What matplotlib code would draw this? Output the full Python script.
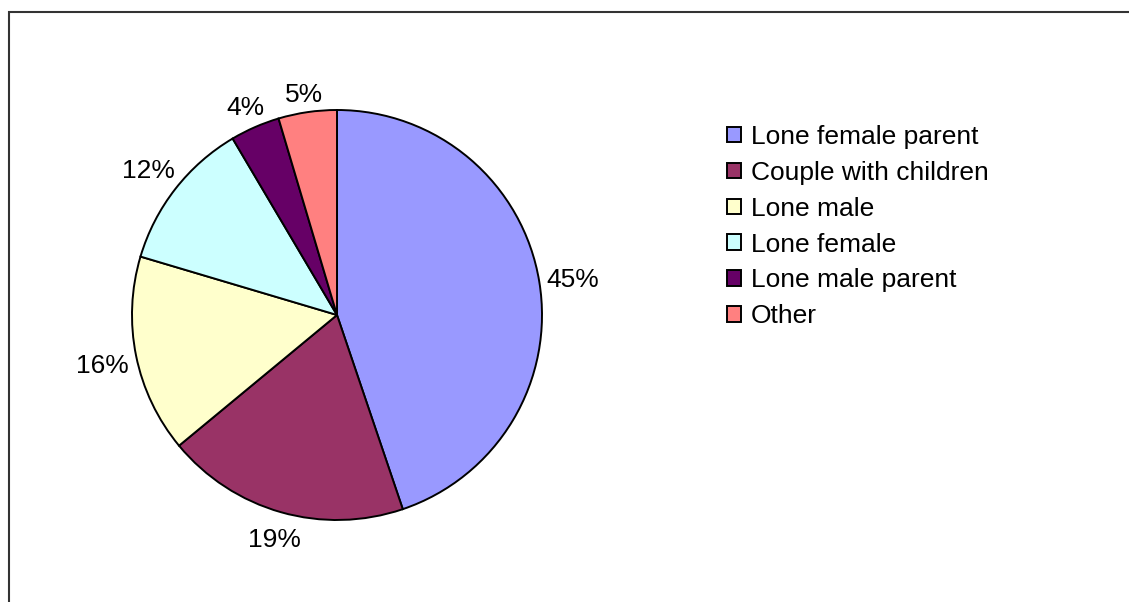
import numpy as np
import matplotlib
matplotlib.use("Agg")
import matplotlib.pyplot as plt
from matplotlib.patches import Rectangle

categories = ["Lone female parent", "Couple with children", "Lone male",
              "Lone female", "Lone male parent", "Other"]
values = [44.8, 19.2, 15.6, 11.9, 3.9, 4.6]
pct_labels = ["45%", "19%", "16%", "12%", "4%", "5%"]
colors = ["#9999FF", "#993366", "#FFFFCC", "#CCFFFF", "#660066", "#FF8080"]

plt.rcParams['font.family'] = ['Liberation Sans', 'DejaVu Sans']

W, H = 1129, 602
fig = plt.figure(figsize=(W / 100, H / 100), dpi=100)

# outer frame
fig.patches.append(Rectangle((9 / W, -0.1), 1.2, (H - 12) / H + 0.1,
                             transform=fig.transFigure, fill=False,
                             edgecolor="#333333", linewidth=1.5))

cx, cy, r = 337, 315, 205
ax = fig.add_axes([(cx - r) / W, (H - cy - r) / H, 2 * r / W, 2 * r / H])
wedges, texts = ax.pie(
    values, colors=colors, startangle=90, counterclock=False,
    wedgeprops=dict(edgecolor="black", linewidth=1.4))
ax.set_xlim(-1, 1)
ax.set_ylim(-1, 1)
ax.set_aspect("equal")
ax.axis("off")

# percentage labels placed just outside the pie, offset by their own size
fig.canvas.draw()
renderer = fig.canvas.get_renderer()
gap = 6
for w, lab in zip(wedges, pct_labels):
    ang = np.deg2rad((w.theta1 + w.theta2) / 2)
    t = ax.text(0, 0, lab, fontsize=19, ha="center", va="center_baseline")
    bb = t.get_window_extent(renderer)
    hw, hh = bb.width / 2, 12
    ext = abs(np.cos(ang)) * hw + abs(np.sin(ang)) * hh
    d = (r + gap + ext) / r
    t.set_position((d * np.cos(ang), d * np.sin(ang) - 1 / r))

leg = fig.legend(wedges, categories, loc="upper left",
                 bbox_to_anchor=(727 / W, 1 - 125 / H),
                 frameon=False, fontsize=19, handlelength=0.53,
                 handleheight=0.53, handletextpad=0.38, labelspacing=0.45,
                 borderaxespad=0, borderpad=0)

fig.savefig("out.png", dpi=100)
